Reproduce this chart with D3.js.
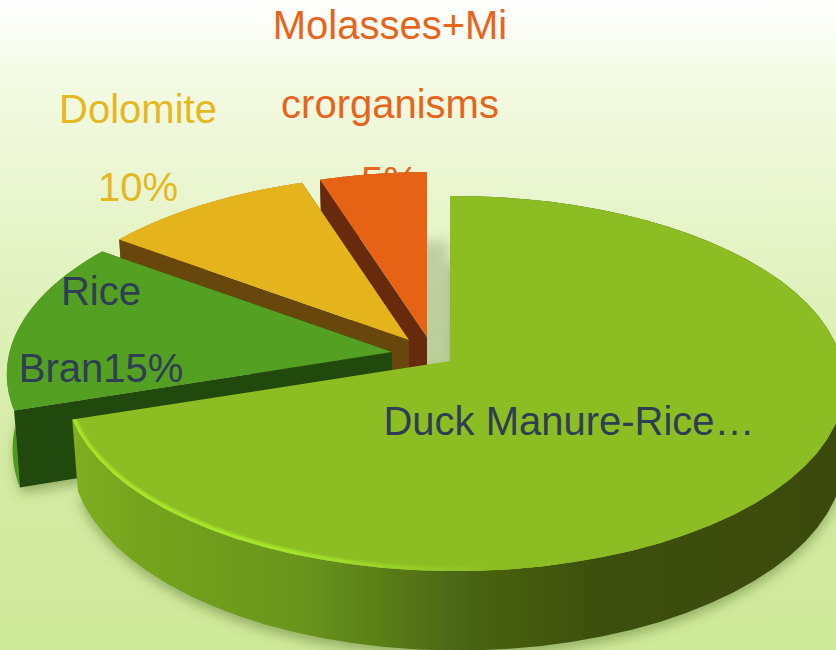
<!DOCTYPE html>
<html><head><meta charset="utf-8">
<script src="https://cdn.jsdelivr.net/npm/d3@7/dist/d3.min.js"></script>
<style>html,body{margin:0;padding:0;background:#fff}svg{display:block}text{font-family:"Liberation Sans",Arial,sans-serif}</style>
</head><body><svg id="c" width="836" height="650"></svg>
<script>
// Data, in pie order (clockwise from 12 o'clock)
const categories = ["Duck Manure-Rice Husk", "Rice Bran", "Dolomite", "Molasses+Microrganisms"];
const values = [70, 15, 10, 5];
// Styling by slice
const topColors  = ["#8cbd24", "#53a020", "#e5b41a", "#e66415"];
const cutColors  = ["#4c6a15", "#244a0e", "#68470d", "#672a08"];
const rimColors  = ["url(#rim)", "#4e9a1d", "#a97f12", "#a8480f"];
const apexX = [450, 392, 409, 427];
const apexY = [361, 352, 340, 337];
const depths = [70, 75, 70, 70];
const showsCut = [false, true, true, true];
// Data labels exactly as wrapped in the picture
const labelLines = [["Duck Manure-Rice…"], ["Rice", "Bran15%"], ["Dolomite", "10%"], ["Molasses+Mi", "crorganisms", "5%"]];
const labelColors = ["#2f3e55", "#2f3e55", "#e6b81f", "#e8641b"];
const labelX = [569, 101, 138, 390];
const labelY = [[435], [305, 382], [123, 201], [39, 118, 195]];

const svg = d3.select("#c");
const W = 836, H = 650;
const rx = 387, ry = 184.8, k = 0.12, m = 0.012, shrink = 0.985;

const defs = svg.append("defs");
const bg = defs.append("linearGradient").attr("id", "bg").attr("x1", 0).attr("x2", 0).attr("y1", 0).attr("y2", 1);
[[0, "#ffffff"], [0.12, "#f4fae4"], [0.35, "#e6f4c8"], [0.7, "#d4eba4"], [1, "#cfe99a"]].forEach(s => bg.append("stop").attr("offset", s[0]).attr("stop-color", s[1]));
const rim = defs.append("linearGradient").attr("id", "rim").attr("gradientUnits", "userSpaceOnUse").attr("x1", 73).attr("x2", 836).attr("y1", 0).attr("y2", 0);
[[0, "#7fae20"], [0.1, "#74a31f"], [0.3, "#6a951e"], [0.42, "#587a17"], [0.52, "#4a6412"], [0.68, "#3e500d"], [1, "#3b4a0c"]].forEach(s => rim.append("stop").attr("offset", s[0]).attr("stop-color", s[1]));
const hl = defs.append("linearGradient").attr("id", "hl").attr("gradientUnits", "userSpaceOnUse").attr("x1", 73).attr("x2", 500).attr("y1", 0).attr("y2", 0);
[[0, "#a8e42c"], [0.5, "#a6e62c"], [0.8, "#96cc28"], [1, "#8cbd24"]].forEach(s => hl.append("stop").attr("offset", s[0]).attr("stop-color", s[1]));
const blur = (id, s) => defs.append("filter").attr("id", id).attr("x", "-20%").attr("y", "-20%").attr("width", "140%").attr("height", "140%").append("feGaussianBlur").attr("stdDeviation", s);
blur("sh", 6); blur("soft", 0.7); blur("glow", 1.2);

svg.append("rect").attr("width", W).attr("height", H).attr("fill", "url(#bg)");

const arcs = d3.pie().sort(null).value(d => d)(values);
const line = d3.line();
// Projects a point of the tilted disc (radius 0..1, angle clockwise from top) to the page
function proj(i, r, a, low) {
  const x = r * Math.sin(a), y = -r * Math.cos(a), w = 1 - k * y - m * x;
  const s = low && x < 0 ? shrink : 1;
  return [apexX[i] + s * rx * x / w, apexY[i] + ry * y / w + (low ? depths[i] / w : 0)];
}
const arcPts = (i, a0, a1, low) => d3.range(0, 61).map(t => proj(i, 1, a0 + (a1 - a0) * t / 60, low));
const face = (i, low) => line([proj(i, 0, 0, low), ...arcPts(i, arcs[i].startAngle, arcs[i].endAngle, low)]) + "Z";
const rimPath = (i) => { const a = arcs[i]; return line([...arcPts(i, a.startAngle, a.endAngle, false), ...arcPts(i, a.startAngle, a.endAngle, true).reverse()]) + "Z"; };
const cutPath = (i, a) => line([proj(i, 0, a, false), proj(i, 1, a, false), proj(i, 1, a, true), proj(i, 0, a, true)]) + "Z";

defs.append("clipPath").attr("id", "mainTop").append("path").attr("d", face(0, false));

function drawLabel(i, g) {
  labelLines[i].forEach((t, j) => g.append("text").attr("x", labelX[i]).attr("y", labelY[i][j])
    .attr("text-anchor", "middle").attr("font-size", 40).attr("fill", labelColors[i]).text(t));
}

const shadows = svg.append("g").attr("filter", "url(#sh)");
shadows.append("path").attr("d", face(0, true)).attr("fill", "#4d6b22").attr("opacity", 0.45).attr("transform", "translate(0,6)");
shadows.append("path").attr("d", face(1, true)).attr("fill", "#4d6b22").attr("opacity", 0.45).attr("transform", "translate(2,6)");
shadows.append("path").attr("d", face(3, true)).attr("fill", "#8a9a70").attr("opacity", 0.4).attr("transform", "translate(22,6)");

// The 5% of the top label sits behind the orange slice
drawLabel(3, svg.append("g"));

const pieG = svg.append("g").attr("filter", "url(#soft)");
[3, 2, 1, 0].forEach(i => {
  const g = pieG.append("g").attr("class", "slice");
  g.append("path").attr("d", rimPath(i)).attr("fill", rimColors[i]);
  if (showsCut[i]) {
    g.append("path").attr("d", cutPath(i, arcs[i].endAngle)).attr("fill", cutColors[i]);
    g.append("path").attr("d", cutPath(i, arcs[i].startAngle)).attr("fill", cutColors[i]);
  }
  g.append("path").attr("d", face(i, false)).attr("fill", topColors[i]);
  if (i === 0) {
    g.append("g").attr("clip-path", "url(#mainTop)")
      .append("path").attr("d", line(arcPts(0, arcs[0].endAngle, Math.PI * 0.92, false)))
      .attr("fill", "none").attr("stroke", "url(#hl)").attr("stroke-width", 8).attr("filter", "url(#glow)");
  }
});

[0, 1, 2].forEach(i => drawLabel(i, svg.append("g")));
</script></body></html>
